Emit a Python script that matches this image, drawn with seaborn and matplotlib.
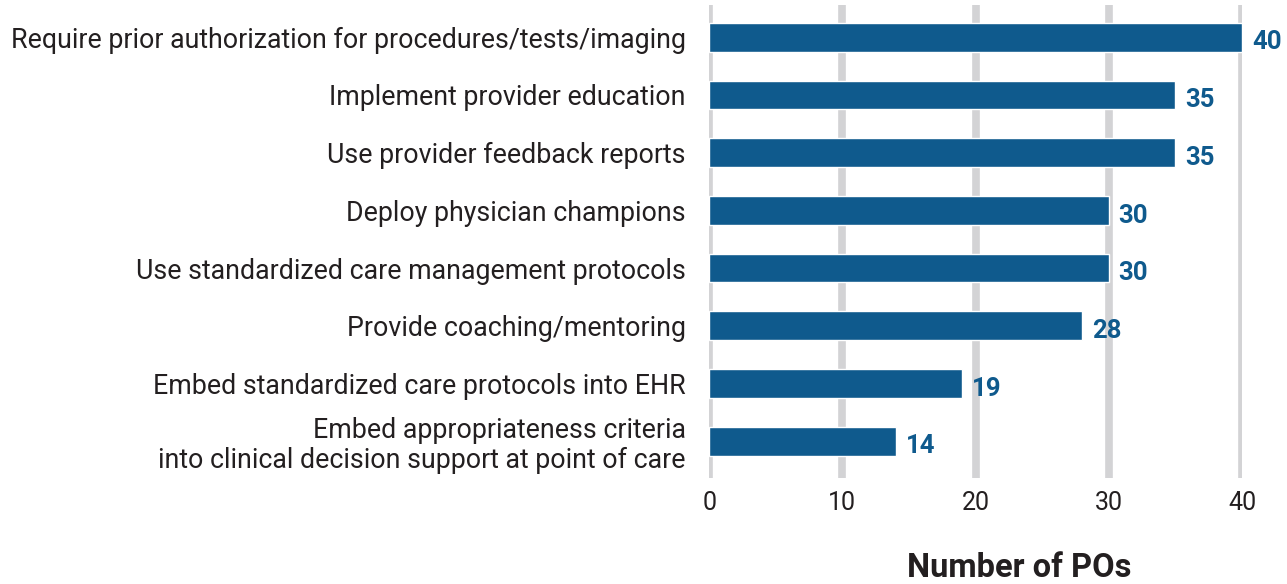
import pandas as pd
import matplotlib.pyplot as plt
import seaborn as sns

# Data
strategies = [
    "Require prior authorization for procedures/tests/imaging",
    "Implement provider education",
    "Use provider feedback reports",
    "Deploy physician champions",
    "Use standardized care management protocols",
    "Provide coaching/mentoring",
    "Embed standardized care protocols into EHR",
    "Embed appropriateness criteria\ninto clinical decision support at point of care",
]
num_pos = [40, 35, 35, 30, 30, 28, 19, 14]

df = pd.DataFrame({"strategy": strategies, "count": num_pos})

sns.set_style("white")
plt.rcParams["font.family"] = ["Roboto", "DejaVu Sans"]

bar_color = "#0f5a8d"
grid_color = "#d3d3d5"
text_color = "#231f20"

fig = plt.figure(figsize=(12.87, 5.84), dpi=100)
ax = fig.add_axes([0.551, 0.1815, 0.414, 0.8095])

sns.barplot(data=df, x="count", y="strategy", orient="h", color=bar_color,
            width=0.5, saturation=1, ax=ax, zorder=3)

# Thick vertical gridlines
for xv in [0, 10, 20, 30, 40]:
    ax.axvline(xv, color=grid_color, lw=5.5, zorder=1)

ax.set_xlim(0, 40)
ax.set_ylim(7.64, -0.555)
ax.set_xticks([0, 10, 20, 30, 40])
ax.tick_params(axis="x", length=0, pad=9, labelsize=18, labelcolor=text_color)
ax.tick_params(axis="y", length=0, pad=17, labelsize=19.3, labelcolor=text_color)
for lbl in ax.get_yticklabels():
    lbl.set_linespacing(1.15)
ax.set_xlabel("")
ax.set_ylabel("")
sns.despine(ax=ax, left=True, bottom=True, top=True, right=True)

# Value labels
for i, v in enumerate(num_pos):
    ax.text(v + 0.75, i + 0.09, str(v), va="center", ha="left",
            fontsize=18.5, fontweight="bold", color=bar_color, clip_on=False)

fig.text(0.792, 0.028, "Number of POs", ha="center", va="center",
         fontsize=23.5, fontweight="bold", color=text_color)

fig.savefig("out.png", dpi=100)
